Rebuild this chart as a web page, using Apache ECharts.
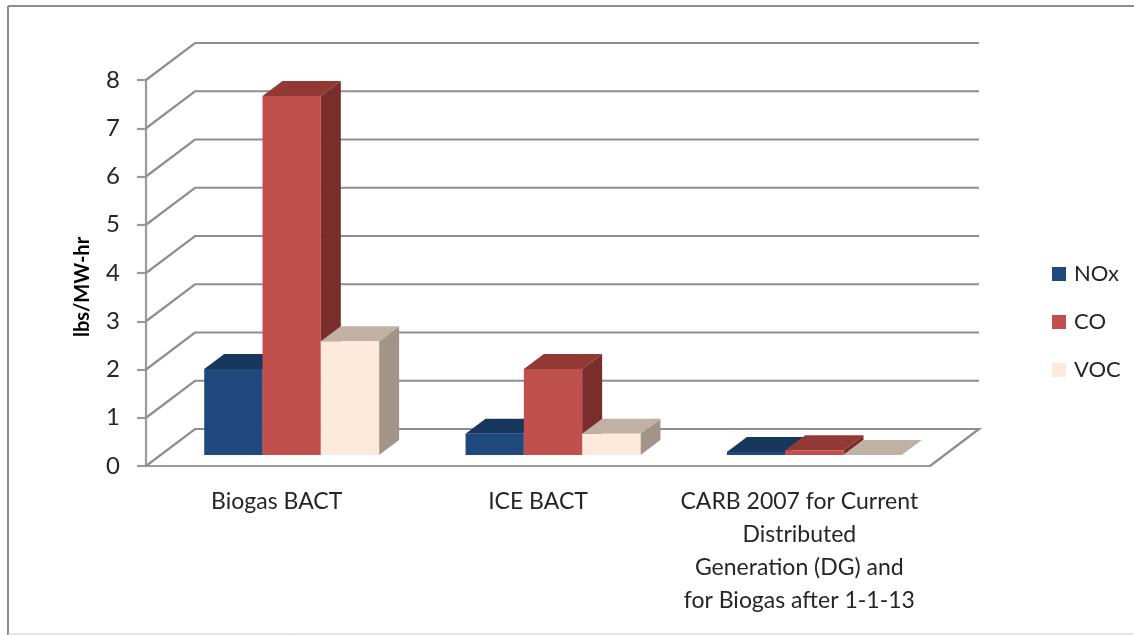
<!DOCTYPE html>
<html>
<head>
<meta charset="utf-8">
<style>
  html, body { margin: 0; padding: 0; background: #fff; }
  #main { width: 1134px; height: 635px; }
</style>
<script src="https://cdn.jsdelivr.net/npm/echarts@6/dist/echarts.min.js"></script>
</head>
<body>
<div id="main"></div>
<script>
var categories = [
  'Biogas BACT',
  'ICE BACT',
  'CARB 2007 for Current\nDistributed\nGeneration (DG) and\nfor Biogas after 1-1-13'
];
var yTicks = [0, 1, 2, 3, 4, 5, 6, 7, 8];
var noxValues = [1.78, 0.44, 0.06];
var coValues = [7.44, 1.78, 0.1];
var vocValues = [2.36, 0.44, 0];

var gridColor = '#8e8e8e';
var axisColor = '#9a9a9a';
var textColor = '#262626';
var wallDx = 49, wallDy = -37;    // depth of the floor
var planeDx = 15, planeDy = -11;  // where the bars stand on the floor
var barDx = 20, barDy = -15;      // depth of one bar
var barWidth = 58.3;

function face(points, color) {
  return { type: 'polygon', shape: { points: points }, style: { fill: color, stroke: null } };
}

// one 3d column, shift = -1, 0, 1 is the place inside the category
function columnSeries(name, values, shift, z, colors) {
  return {
    name: name,
    type: 'custom',
    z: z,
    clip: false,
    itemStyle: { color: colors.front },
    data: values.map(function (v, i) { return [i, v]; }),
    renderItem: function (params, api) {
      var base = api.coord([api.value(0), 0]);
      var top = api.coord([api.value(0), api.value(1)]);
      var x0 = base[0] + planeDx + (shift - 0.5) * barWidth;
      var x1 = x0 + barWidth;
      var y0 = base[1] + planeDy;
      var y1 = top[1] + planeDy;
      return {
        type: 'group',
        children: [
          face([[x1, y0], [x1, y1], [x1 + barDx, y1 + barDy], [x1 + barDx, y0 + barDy]], colors.side),
          face([[x0, y1], [x1, y1], [x1 + barDx, y1 + barDy], [x0 + barDx, y1 + barDy]], colors.top),
          face([[x0, y0], [x1, y0], [x1, y1], [x0, y1]], colors.front)
        ]
      };
    }
  };
}

var wallSeries = {
  type: 'custom',
  z: 1,
  clip: false,
  silent: true,
  data: yTicks.map(function (t) { return [0, t]; }),
  renderItem: function (params, api) {
    var v = api.value(1);
    var y = api.coord([0, v])[1];
    var left = params.coordSys.x;
    var right = left + params.coordSys.width;
    var pts = [[left, y], [left + wallDx, y + wallDy], [right + wallDx, y + wallDy]];
    if (v === 0) pts.push([right, y]);
    return {
      type: 'polyline',
      shape: { points: pts },
      style: { fill: null, stroke: gridColor, lineWidth: 2.2 }
    };
  }
};

var myChart = echarts.init(document.getElementById('main'), null, { renderer: 'canvas' });
var option = {
  animation: false,
  backgroundColor: '#fff',
  textStyle: { fontFamily: 'Lato', color: textColor },
  graphic: [
    { type: 'line', shape: { x1: 8, y1: 6, x2: 1134, y2: 6 }, style: { stroke: '#8c8c8c', lineWidth: 2 } },
    { type: 'line', shape: { x1: 8, y1: 6, x2: 8, y2: 635 }, style: { stroke: '#8c8c8c', lineWidth: 2 } },
    { type: 'line', shape: { x1: 8, y1: 634, x2: 1134, y2: 634 }, style: { stroke: '#cccccc', lineWidth: 1 } }
  ],
  grid: { left: 146, top: 80, width: 784, height: 386 },
  legend: {
    data: ['NOx', 'CO', 'VOC'],
    orient: 'vertical',
    left: 1047,
    top: 258,
    icon: 'rect',
    itemWidth: 14,
    itemHeight: 14,
    itemGap: 26,
    textStyle: { fontSize: 22, color: textColor, fontFamily: 'Lato', padding: [0, 0, 0, 3] }
  },
  xAxis: {
    type: 'category',
    data: categories,
    axisLine: { lineStyle: { color: axisColor, width: 2.2 } },
    axisTick: { length: 9, lineStyle: { color: axisColor, width: 2.2 } },
    axisLabel: { fontSize: 23, lineHeight: 33, margin: 19, color: textColor, interval: 0 }
  },
  yAxis: {
    type: 'value',
    min: 0,
    max: 8,
    interval: 1,
    name: 'lbs/MW-hr',
    nameLocation: 'middle',
    nameRotate: 90,
    nameGap: 53,
    nameTextStyle: { fontSize: 20, fontWeight: 'bold', color: '#000', padding: [0, 28, 0, 0] },
    axisLine: { show: true, lineStyle: { color: axisColor, width: 2.2 } },
    axisTick: { show: true, length: 9, lineStyle: { color: axisColor, width: 2.2 } },
    axisLabel: { fontSize: 24, margin: 26, color: textColor, padding: [6, 0, 0, 0] },
    splitLine: { show: false }
  },
  series: [
    wallSeries,
    columnSeries('NOx', noxValues, -1, 2, { front: '#1f497d', top: '#17375e', side: '#17375e' }),
    columnSeries('CO', coValues, 0, 3, { front: '#c0504d', top: '#923936', side: '#7a2e2c' }),
    columnSeries('VOC', vocValues, 1, 4, { front: '#fdeada', top: '#c0b1a3', side: '#a1958a' })
  ]
};
myChart.setOption(option);
</script>
</body>
</html>
